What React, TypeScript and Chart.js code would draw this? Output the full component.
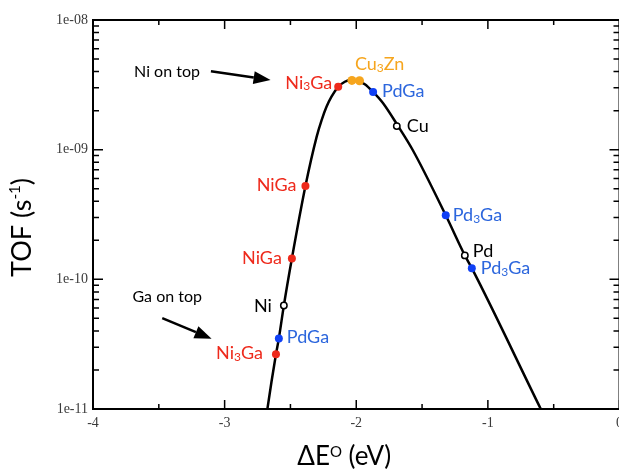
import React, { useEffect, useRef } from "react";
import { Chart, registerables } from "chart.js";
Chart.register(...registerables);

// ---- Data ----
// Volcano curve (ΔE° in eV, TOF in s^-1)
const curveE = [-2.72, -2.675, -2.61, -2.588, -2.55, -2.489, -2.386, -2.301, -2.263, -2.226, -2.188, -2.137, -2.087, -2.045, -2.0, -1.935, -1.872, -1.796, -1.684, -1.57, -1.32, -1.175, -1.122, -0.598, -0.5];
const curveTOF = [4.6e-12, 1.0e-11, 2.64e-11, 3.5e-11, 6.29e-11, 1.45e-10, 5.25e-10, 1.256e-9, 1.69e-9, 2.14e-9, 2.56e-9, 3.05e-9, 3.34e-9, 3.45e-9, 3.42e-9, 3.2e-9, 2.79e-9, 2.28e-9, 1.53e-9, 9.9e-10, 3.12e-10, 1.53e-10, 1.22e-10, 1.0e-11, 6.3e-12];

// Ni–Ga compounds (red)
const niGaE = [-2.137, -2.386, -2.489, -2.61];
const niGaTOF = [3.05e-9, 5.25e-10, 1.45e-10, 2.64e-11];
const niGaNames = ["Ni3Ga", "NiGa", "NiGa", "Ni3Ga"];

// Pd–Ga compounds (blue)
const pdGaE = [-1.872, -1.32, -1.122, -2.588];
const pdGaTOF = [2.79e-9, 3.12e-10, 1.22e-10, 3.5e-11];
const pdGaNames = ["PdGa", "Pd3Ga", "Pd3Ga", "PdGa"];

// Cu3Zn (orange)
const cuZnE = [-2.033, -1.975];
const cuZnTOF = [3.42e-9, 3.40e-9];
const cuZnNames = ["Cu3Zn", ""];

// Pure metals (open circles)
const metalE = [-1.692, -1.175, -2.55];
const metalTOF = [1.52e-9, 1.53e-10, 6.29e-11];
const metalNames = ["Cu", "Pd", "Ni"];

// Annotations
const noteTexts = ["Ni on top", "Ga on top"];
const noteFromE = [-3.104, -3.474];
const noteFromTOF = [4.03e-9, 5.02e-11];
const noteToE = [-2.651, -3.099];
const noteToTOF = [3.44e-9, 3.48e-11];

// Axes
const xMajor = [-4, -3, -2, -1, 0];
const xMajorLabels = ["-4", "-3", "-2", "-1", "0"];
const xMinor = [-3.5, -2.5, -1.5, -0.5];
const yMajor = [1e-8, 1e-9, 1e-10, 1e-11];
const yMajorLabels = ["1e-08", "1e-09", "1e-10", "1e-11"];

// ---- Styles ----
const RED = "#ee2a1c";
const BLUE_DOT = "#1040f5";
const BLUE_TXT = "#2c66dd";
const ORANGE = "#f6a51d";
const SANS = "Lato, 'Open Sans', sans-serif";
const SERIF = "'Liberation Serif', 'DejaVu Serif', serif";

// label offsets [dx, dy, align] per dataset point
const niGaOffsets: [number, number, string][] = [[-6, -4, "right"], [-9, -1, "right"], [-10, 0, "right"], [-13, -1, "right"]];
const pdGaOffsets: [number, number, string][] = [[9, -1, "left"], [7, 0, "left"], [9, 0, "left"], [8, -1, "left"]];
const cuZnOffsets: [number, number, string][] = [[3, -16, "left"], [0, 0, "left"]];
const metalOffsets: [number, number, string][] = [[10, 0, "left"], [8, -4, "left"], [-12, 1, "right"]];

function drawFormula(ctx: CanvasRenderingContext2D, t: string, x: number, y: number, align: string, color: string, size: number) {
  const parts = t.split(/(\d+)/).filter(Boolean).map((s) => ({ text: s, sub: /^\d+$/.test(s) }));
  const big = `${size}px ${SANS}`;
  const small = `${Math.round(size * 0.66)}px ${SANS}`;
  let w = 0;
  for (const p of parts) {
    ctx.font = p.sub ? small : big;
    w += ctx.measureText(p.text).width;
  }
  let cx = align === "right" ? x - w : align === "center" ? x - w / 2 : x;
  ctx.textAlign = "left";
  ctx.textBaseline = "middle";
  ctx.fillStyle = color;
  for (const p of parts) {
    ctx.font = p.sub ? small : big;
    ctx.fillText(p.text, cx, y + (p.sub ? size * 0.2 : 0));
    cx += ctx.measureText(p.text).width;
  }
}

function drawRich(ctx: CanvasRenderingContext2D, parts: { t: string; size: number; dy: number }[], x: number, y: number) {
  let w = 0;
  for (const p of parts) {
    ctx.font = `${p.size}px ${SANS}`;
    w += ctx.measureText(p.t).width;
  }
  let cx = x - w / 2;
  ctx.textAlign = "left";
  ctx.textBaseline = "alphabetic";
  ctx.fillStyle = "#000";
  for (const p of parts) {
    ctx.font = `${p.size}px ${SANS}`;
    ctx.fillText(p.t, cx, y + p.dy);
    cx += ctx.measureText(p.t).width;
  }
}

const framePlugin = {
  id: "frame",
  afterDatasetsDraw(chart: any) {
    const { ctx, chartArea: a, scales } = chart;
    const xs = scales.x;
    const ys = scales.y;
    ctx.save();
    // point labels
    const labelSets = [
      { names: niGaNames, offs: niGaOffsets, color: RED, ds: 0 },
      { names: pdGaNames, offs: pdGaOffsets, color: BLUE_TXT, ds: 1 },
      { names: cuZnNames, offs: cuZnOffsets, color: ORANGE, ds: 2 },
      { names: metalNames, offs: metalOffsets, color: "#000", ds: 3 },
    ];
    for (const s of labelSets) {
      const meta = chart.getDatasetMeta(s.ds);
      meta.data.forEach((pt: any, i: number) => {
        if (!s.names[i]) return;
        const [dx, dy, al] = s.offs[i];
        drawFormula(ctx, s.names[i], pt.x + dx, pt.y + dy, al, s.color, 18);
      });
    }
    // annotations with arrows
    for (let i = 0; i < noteTexts.length; i++) {
      const x0 = xs.getPixelForValue(noteFromE[i]);
      const y0 = ys.getPixelForValue(noteFromTOF[i]);
      const x1 = xs.getPixelForValue(noteToE[i]);
      const y1 = ys.getPixelForValue(noteToTOF[i]);
      const ang = Math.atan2(y1 - y0, x1 - x0);
      const hl = 17, hw = 6.5;
      const bx = x1 - hl * Math.cos(ang);
      const by = y1 - hl * Math.sin(ang);
      ctx.strokeStyle = "#000";
      ctx.lineWidth = 2.5;
      ctx.beginPath();
      ctx.moveTo(x0, y0);
      ctx.lineTo(bx, by);
      ctx.stroke();
      ctx.fillStyle = "#000";
      ctx.beginPath();
      ctx.moveTo(x1, y1);
      ctx.lineTo(bx + hw * Math.sin(ang), by - hw * Math.cos(ang));
      ctx.lineTo(bx - hw * Math.sin(ang), by + hw * Math.cos(ang));
      ctx.closePath();
      ctx.fill();
      ctx.font = `16px ${SANS}`;
      ctx.textBaseline = "middle";
      if (i === 0) {
        ctx.textAlign = "right";
        ctx.fillText(noteTexts[i], x0 - 11, y0 + 1);
      } else {
        ctx.textAlign = "center";
        ctx.fillText(noteTexts[i], x0 + 5, y0 - 21);
      }
    }
    // frame
    ctx.strokeStyle = "#000";
    ctx.lineWidth = 2;
    ctx.strokeRect(a.left, a.top, a.right - a.left, a.bottom - a.top);
    ctx.lineWidth = 1.5;
    // ticks
    const yMinorVals: number[] = [];
    for (let d = -11; d < -8; d++) for (let m = 2; m <= 9; m++) yMinorVals.push(m * Math.pow(10, d));
    ctx.beginPath();
    for (const v of yMajor) {
      const y = ys.getPixelForValue(v);
      ctx.moveTo(a.left, y); ctx.lineTo(a.left + 10, y);
      ctx.moveTo(a.right, y); ctx.lineTo(a.right - 10, y);
    }
    for (const v of yMinorVals) {
      const y = ys.getPixelForValue(v);
      ctx.moveTo(a.left, y); ctx.lineTo(a.left + 6, y);
      ctx.moveTo(a.right, y); ctx.lineTo(a.right - 6, y);
    }
    for (const v of xMajor) {
      const x = xs.getPixelForValue(v);
      ctx.moveTo(x, a.bottom); ctx.lineTo(x, a.bottom - 9);
      ctx.moveTo(x, a.top); ctx.lineTo(x, a.top + 9);
    }
    for (const v of xMinor) {
      const x = xs.getPixelForValue(v);
      ctx.moveTo(x, a.bottom); ctx.lineTo(x, a.bottom - 5);
      ctx.moveTo(x, a.top); ctx.lineTo(x, a.top + 5);
    }
    ctx.stroke();
    // tick labels
    ctx.fillStyle = "#3a3a3a";
    ctx.font = `14px ${SERIF}`;
    ctx.textBaseline = "middle";
    ctx.textAlign = "right";
    yMajor.forEach((v, i) => ctx.fillText(yMajorLabels[i], a.left - 5, ys.getPixelForValue(v)));
    ctx.textAlign = "center";
    xMajor.forEach((v, i) => ctx.fillText(xMajorLabels[i], xs.getPixelForValue(v), a.bottom + 14));
    // axis titles
    drawRich(ctx, [
      { t: "ΔE", size: 26, dy: 0 },
      { t: "O", size: 15, dy: -8 },
      { t: " (eV)", size: 26, dy: 0 },
    ], (a.left + a.right) / 2 - 12, a.bottom + 56);
    ctx.save();
    ctx.translate(31, (a.top + a.bottom) / 2 + 13);
    ctx.rotate(-Math.PI / 2);
    drawRich(ctx, [
      { t: "TOF (s", size: 27, dy: 0 },
      { t: "-1", size: 15, dy: -11 },
      { t: ")", size: 27, dy: 0 },
    ], 0, 0);
    ctx.restore();
    ctx.restore();
  },
};

const pts = (xs: number[], ys: number[]) => xs.map((x, i) => ({ x, y: ys[i] }));

export default function App() {
  const ref = useRef<HTMLCanvasElement>(null);
  useEffect(() => {
    if (!ref.current) return;
    const chart = new Chart(ref.current, {
      type: "scatter",
      data: {
        datasets: [
          { data: pts(niGaE, niGaTOF), pointRadius: 4, pointBackgroundColor: RED, pointBorderWidth: 0, showLine: false },
          { data: pts(pdGaE, pdGaTOF), pointRadius: 4, pointBackgroundColor: BLUE_DOT, pointBorderWidth: 0, showLine: false },
          { data: pts(cuZnE, cuZnTOF), pointRadius: 4.5, pointBackgroundColor: ORANGE, pointBorderWidth: 0, showLine: false },
          { data: pts(metalE, metalTOF), pointRadius: 3.2, pointBackgroundColor: "#fff", pointBorderColor: "#000", pointBorderWidth: 1.5, showLine: false },
          { data: pts(curveE, curveTOF), showLine: true, pointRadius: 0, borderColor: "#000", borderWidth: 2.5, cubicInterpolationMode: "monotone", order: 10 },
        ],
      },
      options: {
        responsive: false,
        animation: false,
        devicePixelRatio: 1,
        layout: { padding: { left: 93, right: 5, top: 20, bottom: 62 } },
        plugins: { legend: { display: false }, tooltip: { enabled: false } },
        scales: {
          x: { type: "linear", min: -4, max: 0, display: false },
          y: { type: "logarithmic", min: 1e-11, max: 1e-8, display: false },
        },
      },
      plugins: [framePlugin],
    } as any);
    return () => chart.destroy();
  }, []);
  return (
    <div style={{ position: "fixed", left: 0, top: 0, width: 619, height: 471, overflow: "hidden", background: "#fff" }}>
      <canvas ref={ref} width={625} height={471} style={{ display: "block" }} />
    </div>
  );
}
